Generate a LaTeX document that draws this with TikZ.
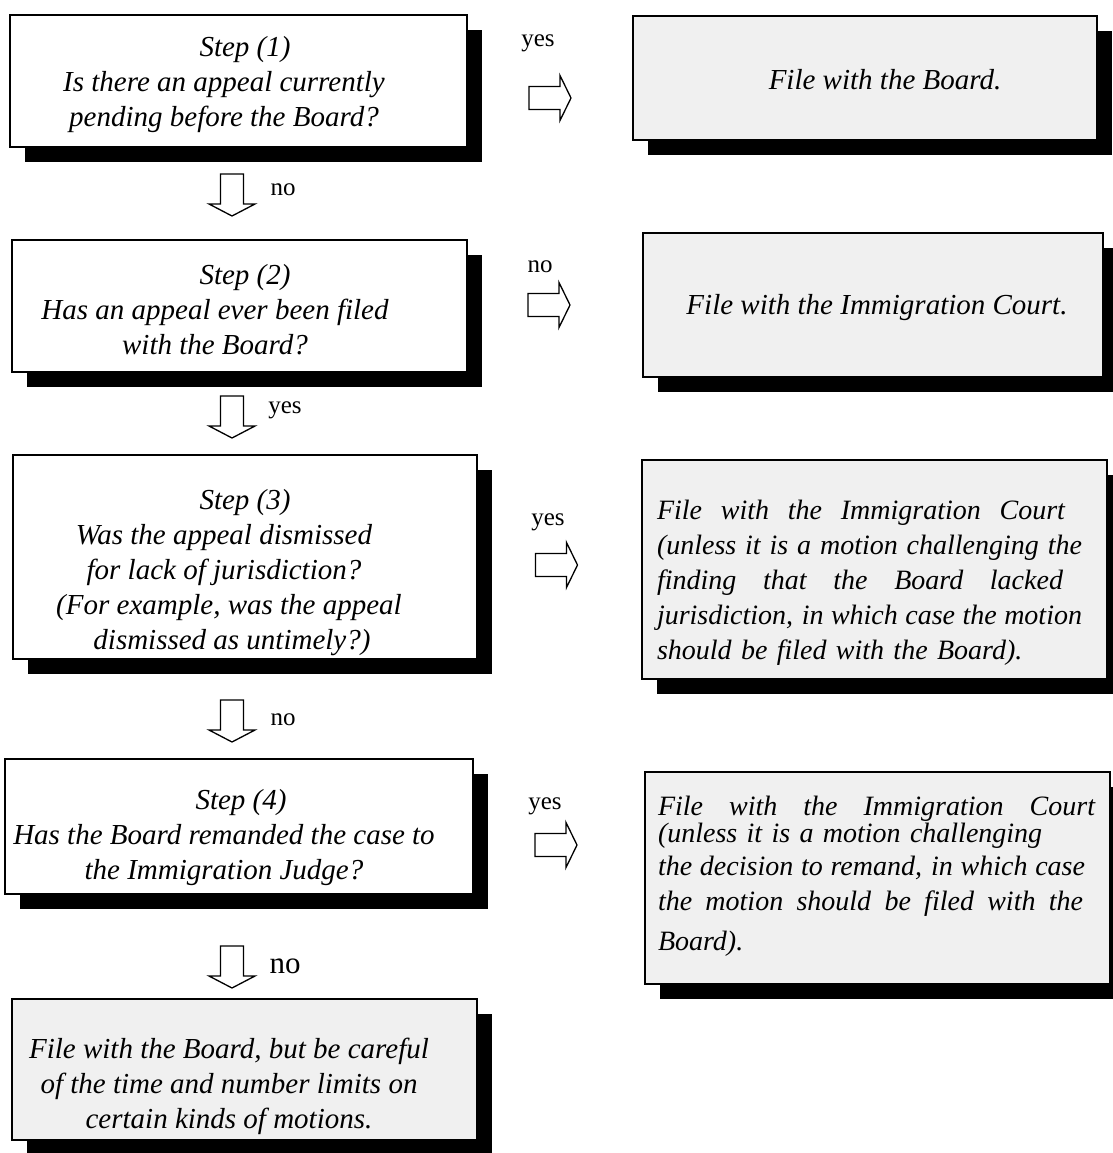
\documentclass[tikz,border=0pt]{standalone}
\usepackage{fontspec}
\setmainfont{Liberation Serif}
\usetikzlibrary{shadows}
\definecolor{boxgray}{HTML}{F0F0F0}
% a justified line of a given width
\newcommand{\spreadline}[2]{\leavevmode\hbox to #1{\spaceskip=0.1em plus 1fil\relax #2}}

\begin{document}
\begin{tikzpicture}[x=1pt,y=-1pt]
  \tikzstyle{stepbox}=[draw,line width=1.6pt,fill=white,inner sep=0pt,
    drop shadow={shadow xshift=15pt,shadow yshift=-15pt,fill=black,opacity=1}]
  \tikzstyle{filebox}=[stepbox,fill=boxgray]
  \tikzstyle{steptext}=[align=center,inner sep=0pt,font=\fontsize{29}{35}\selectfont\itshape]
  \tikzstyle{filetext}=[align=left,inner sep=0pt,font=\fontsize{28}{35}\selectfont\itshape]
  \tikzstyle{answer}=[font=\fontsize{25}{30}\selectfont,inner sep=0pt]
  \tikzstyle{blockarrow}=[draw,line width=1.3pt,fill=white]
  \tikzset{
    rarrow/.pic={\draw[blockarrow] (-21,-11.5) -- (10,-11.5) -- (10,-22.5) -- (21,0)
      -- (10,22.5) -- (10,11.5) -- (-21,11.5) -- cycle;},
    darrow/.pic={\draw[blockarrow] (-11.5,-21) -- (-11.5,9) -- (-23,9) -- (0,21)
      -- (23,9) -- (11.5,9) -- (11.5,-21) -- cycle;}
  }
  \useasboundingbox (0,0) rectangle (1112,1153);
  % questions
  \node[stepbox,minimum width=457pt,minimum height=132pt] (q1) at (238.5,81) {};
  \node[stepbox,minimum width=455pt,minimum height=132pt] (q2) at (239.5,306) {};
  \node[stepbox,minimum width=464pt,minimum height=204pt] (q3) at (245,557) {};
  \node[stepbox,minimum width=468pt,minimum height=135pt] (q4) at (239,826.5) {};
  \node[filebox,minimum width=465pt,minimum height=141pt] (f5) at (244.5,1069.5) {};
  \node[steptext] (q1text) at (224,85)
    {\hspace*{42pt}Step (1)\\Is there an appeal currently\\pending before the Board?};
  \node[steptext] (q2text) at (215,310)
    {\hspace*{60pt}Step (2)\\Has an appeal ever been filed\\with the Board?};
  \node[steptext] (q3text) at (224,573)
    {\hspace*{42pt}Step (3)\\Was the appeal dismissed\\for lack of jurisdiction?\\
     \hspace*{10pt}(For example, was the appeal\\\hspace*{16pt}dismissed as untimely?)};
  \node[steptext] (q4text) at (224,838)
    {\hspace*{34pt}Step (4)\\Has the Board remanded the case to\\the Immigration Judge?};
  \node[steptext] (f5text) at (229,1086)
    {File with the Board, but be careful\\of the time and number limits on\\certain kinds of motions.};
  % where to file
  \node[filebox,minimum width=464pt,minimum height=124pt] (f1) at (865,78) {};
  \node[filebox,minimum width=460pt,minimum height=144pt] (f2) at (873,305) {};
  \node[filebox,minimum width=465pt,minimum height=219pt] (f3) at (874.5,569.5) {};
  \node[filebox,minimum width=465pt,minimum height=212pt] (f4) at (877.5,878) {};
  \node[steptext] (f1text) at (885,80) {File with the Board.};
  \node[steptext] (f2text) at (877,308) {File with the Immigration Court.};
  \node[filetext,text width=425pt] (f3text) at (869.5,583)
    {\spreadline{408pt}{File with the Immigration Court}\\
     \spreadline{425pt}{(unless it is a motion challenging the}\\
     \spreadline{406pt}{finding that the Board lacked}\\
     \spreadline{425pt}{jurisdiction, in which case the motion}\\
     should be filed with the Board).};
  \node[filetext,text width=437pt] (f4text) at (876.5,876)
    {\spreadline{437pt}{File with the Immigration Court}\\[-8pt]
     (unless it is a motion challenging\\[-2pt]
     \spreadline{427pt}{the decision to remand, in which case}\\
     \spreadline{425pt}{the motion should be filed with the}\\[5pt]
     Board).};
  % down arrows
  \pic at (232,195) {darrow};
  \pic at (232,417) {darrow};
  \pic at (232,721) {darrow};
  \pic at (232,967) {darrow};
  \node[answer] (no1) at (283,190) {no};
  \node[answer] (yes2) at (285,410) {yes};
  \node[answer] (no3) at (283,720) {no};
  \node[answer,font=\fontsize{31}{36}\selectfont] (no4) at (285,966) {no};
  % right arrows
  \pic at (550,98) {rarrow};
  \pic at (549,305) {rarrow};
  \pic at (556.5,565) {rarrow};
  \pic at (556,845) {rarrow};
  \node[answer] (yes1) at (538,43) {yes};
  \node[answer] (no2) at (540,267) {no};
  \node[answer] (yes3) at (548,522) {yes};
  \node[answer] (yes4) at (545,806) {yes};
\end{tikzpicture}
\end{document}
